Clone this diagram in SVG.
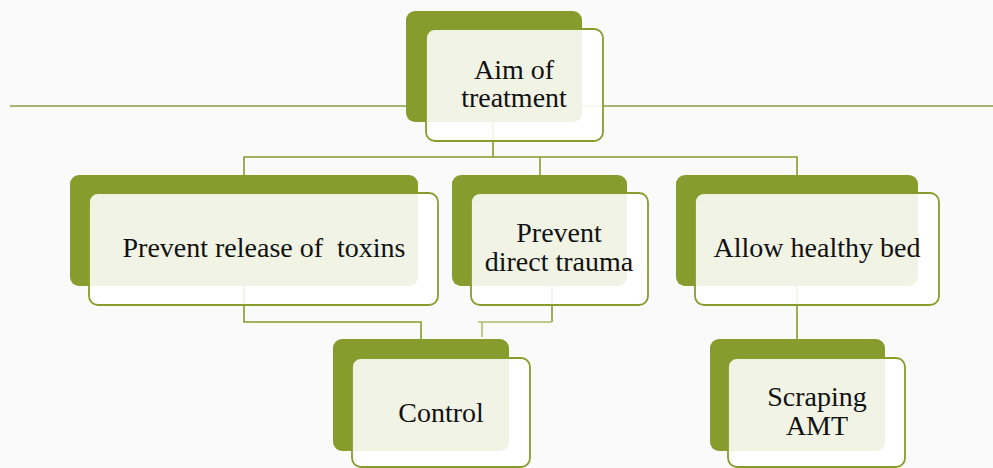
<svg xmlns="http://www.w3.org/2000/svg" width="993" height="468" viewBox="0 0 993 468">
<style>
.bg{fill:#FAFAFA}
.back{fill:#889B2D}
.front{fill:#FFFFFF;fill-opacity:0.88;stroke:#889B2D;stroke-width:1.8}
.c{stroke:#889B2D;stroke-width:1.6;fill:none}
.cl{stroke:#AEB96F;stroke-width:1.6;fill:none}
.rule{stroke:#8D9C45;stroke-width:1.4}
.t{font-size:28px;fill:#111111;text-anchor:middle}
</style>
<rect class="bg" x="0" y="0" width="993" height="468"/>
<line class="rule" x1="10" y1="106" x2="993" y2="106"/>
<g id="connectors">
<polyline class="c" points="493,122 493,157"/>
<polyline class="c" points="244,176 244,157 797,157 797,176"/>
<polyline class="c" points="540,157 540,176"/>
<polyline class="c" points="244,286 244,322 421,322 421,339"/>
<polyline class="c" points="552,286 552,322"/>
<polyline class="cl" points="478,322 552,322"/>
<polyline class="cl" points="482,322 482,337"/>
<polyline class="c" points="797,286 797,339"/>
</g>
<g id="aim">
<rect class="back" x="406" y="11" width="176" height="111" rx="9"/>
<rect class="front" x="426" y="29" width="177" height="112" rx="9"/>
<text class="t" font-family="Liberation Serif" x="514" y="79">Aim of</text>
<text class="t" font-family="Liberation Serif" x="514" y="107">treatment</text>
</g>
<g id="toxins">
<rect class="back" x="70" y="175" width="348" height="111" rx="9"/>
<rect class="front" x="89" y="193" width="349" height="112" rx="9"/>
<text class="t" font-family="Liberation Serif" x="264" y="257" xml:space="preserve">Prevent release of  toxins</text>
</g>
<g id="trauma">
<rect class="back" x="452" y="175" width="175" height="111" rx="9"/>
<rect class="front" x="471" y="193" width="177" height="112" rx="9"/>
<text class="t" font-family="Liberation Serif" x="559" y="242">Prevent</text>
<text class="t" font-family="Liberation Serif" x="559" y="271">direct trauma</text>
</g>
<g id="bed">
<rect class="back" x="676" y="175" width="242" height="111" rx="9"/>
<rect class="front" x="695" y="193" width="244" height="112" rx="9"/>
<text class="t" font-family="Liberation Serif" x="817" y="257">Allow healthy bed</text>
</g>
<g id="control">
<rect class="back" x="333" y="339" width="176" height="112" rx="9"/>
<rect class="front" x="352" y="358" width="178" height="109" rx="9"/>
<text class="t" font-family="Liberation Serif" x="441" y="422">Control</text>
</g>
<g id="scraping">
<rect class="back" x="710" y="339" width="175" height="112" rx="9"/>
<rect class="front" x="728" y="358" width="177" height="109" rx="9"/>
<text class="t" font-family="Liberation Serif" x="817" y="406">Scraping</text>
<text class="t" font-family="Liberation Serif" x="817" y="435">AMT</text>
</g>
</svg>
